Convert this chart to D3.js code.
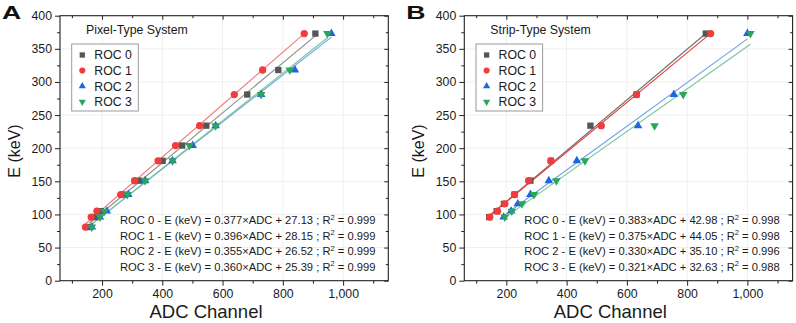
<!DOCTYPE html>
<html><head><meta charset="utf-8">
<script src="https://cdn.jsdelivr.net/npm/d3@7"></script>
<style>
html,body{margin:0;padding:0;background:#fff;}
svg{display:block;font-family:"Liberation Sans",Arial,sans-serif;}
</style></head>
<body><svg id="chart" width="796" height="323"></svg>
<script>
// ---------- data ----------
const seriesNames = ["ROC 0","ROC 1","ROC 2","ROC 3"];
const xTicksMajor = [200,400,600,800,1000];
const xTicksMinor = [100,300,500,700,900,1100];
const yTicksMajor = [0,50,100,150,200,250,300,350,400];
const yTicksMinor = [25,75,125,175,225,275,325,375];

// Panel A: Pixel-Type System
const energyA = [373,318,281,234,204,181,151,130,105,96,81];
const adcA_roc0 = [908,785,682,546,466,401,324,271,196,177,158];
const adcA_roc1 = [871,733,639,524,444,386,308,262,183,164,145];
const adcA_roc2 = [961,840,728,577,501,434,343,287,216,193,166];
const adcA_roc3 = [948,823,728,577,490,434,343,284,208,193,166];
const slopeA = [0.377,0.396,0.355,0.360];
const interA = [27.13,28.15,26.52,25.39];
const r2A = ["0.999","0.999","0.999","0.999"];

// Panel B: Strip-Type System
const energyB = [373,281,234,181,151,130,116,105,96];
const adcB_roc0 = [862,632,479,348,280,227,192,168,143];
const adcB_roc1 = [878,632,515,348,274,227,195,171,145];
const adcB_roc2 = [1000,756,637,434,341,280,238,216,191];
const adcB_roc3 = [1010,787,692,461,366,292,252,218,195];
const slopeB = [0.383,0.375,0.330,0.321];
const interB = [42.98,44.05,35.10,32.63];
const r2B = ["0.998","0.998","0.996","0.988"];

// ---------- styles ----------
const markColors = ["#555555","#f03c3c","#1f66de","#2aa55a"];
const lineColorsA = ["#8a8a8a","#f07a7a","#6f9ee6","#78c695"];
const lineColorsB = ["#707070","#e83a3a","#6f9ee6","#78c695"];
const symbolTypes = [d3.symbolSquare,d3.symbolCircle,d3.symbolTriangle,d3.symbolTriangle];
const symbolSizes = [40,42,32,32];
const symbolRot = [0,0,0,180];

const svg = d3.select("#chart");

function drawPanel(cfg){
  const x = d3.scaleLinear().domain([60.5,1150]).range([cfg.left, cfg.left+328.3]);
  const y = d3.scaleLinear().domain([0,400]).range([280.7,15.7]);
  const g = svg.append("g");
  const [x0,x1] = x.range(), [y0,y1] = y.range();

  // grid
  g.append("g").selectAll("line").data(xTicksMajor).join("line")
    .attr("x1",d=>x(d)).attr("x2",d=>x(d)).attr("y1",y0).attr("y2",y1)
    .attr("stroke","#ebebeb").attr("stroke-width",0.8);
  g.append("g").selectAll("line").data(yTicksMajor.slice(1,-1)).join("line")
    .attr("y1",d=>y(d)).attr("y2",d=>y(d)).attr("x1",x0).attr("x2",x1)
    .attr("stroke","#ebebeb").attr("stroke-width",0.8);

  // bottom axis
  g.append("g").attr("transform",`translate(0,${y0})`)
    .call(d3.axisBottom(x).tickValues(xTicksMajor).tickSize(5).tickPadding(4).tickSizeOuter(0));
  g.append("g").attr("transform",`translate(0,${y0})`)
    .call(d3.axisBottom(x).tickValues(xTicksMinor).tickSize(3).tickFormat("").tickSizeOuter(0));
  // left axis
  g.append("g").attr("transform",`translate(${x0},0)`)
    .call(d3.axisLeft(y).tickValues(yTicksMajor).tickSize(5).tickPadding(3).tickSizeOuter(0));
  g.append("g").attr("transform",`translate(${x0},0)`)
    .call(d3.axisLeft(y).tickValues(yTicksMinor).tickSize(3).tickFormat("").tickSizeOuter(0));
  // top axis (inward)
  g.append("g").attr("transform",`translate(0,${y1})`)
    .call(d3.axisTop(x).tickValues(xTicksMajor).tickSize(-4).tickFormat("").tickSizeOuter(0));
  g.append("g").attr("transform",`translate(0,${y1})`)
    .call(d3.axisTop(x).tickValues(xTicksMinor).tickSize(-2.5).tickFormat("").tickSizeOuter(0));
  // right axis (inward)
  g.append("g").attr("transform",`translate(${x1},0)`)
    .call(d3.axisRight(y).tickValues(yTicksMajor).tickSize(-4).tickFormat("").tickSizeOuter(0));
  g.append("g").attr("transform",`translate(${x1},0)`)
    .call(d3.axisRight(y).tickValues(yTicksMinor).tickSize(-2.5).tickFormat("").tickSizeOuter(0));
  g.selectAll(".domain").remove();
  g.selectAll(".tick line").attr("stroke","#222").attr("stroke-width",1);
  g.selectAll(".tick text").attr("font-size",12.3).attr("fill","#1a1a1a")
    .attr("font-family","'Liberation Sans',Arial,sans-serif");

  // frame
  g.append("rect").attr("x",x0).attr("y",y1).attr("width",x1-x0).attr("height",y0-y1)
    .attr("fill","none").attr("stroke","#222").attr("stroke-width",1.1);

  // fit lines
  cfg.series.forEach((s,i)=>{
    const ext = d3.extent(s);
    g.append("line")
      .attr("x1",x(ext[0])).attr("y1",y(cfg.slope[i]*ext[0]+cfg.inter[i]))
      .attr("x2",x(ext[1])).attr("y2",y(cfg.slope[i]*ext[1]+cfg.inter[i]))
      .attr("stroke",cfg.lineColors[i]).attr("stroke-width",1.1);
  });
  // points
  cfg.series.forEach((s,i)=>{
    g.append("g").selectAll("path").data(s.map((v,j)=>[v,cfg.energy[j]])).join("path")
      .attr("d",d3.symbol().type(symbolTypes[i]).size(symbolSizes[i]))
      .attr("transform",d=>`translate(${x(d[0])},${y(d[1])}) rotate(${symbolRot[i]})`)
      .attr("fill",markColors[i]);
  });

  // panel title
  g.append("text").attr("x",cfg.left+26).attr("y",34).attr("font-size",12.3).attr("fill","#1a1a1a")
    .text(cfg.title);

  // legend
  const lx = cfg.left+11.7, ly0 = 44;
  g.append("rect").attr("x",lx).attr("y",ly0).attr("width",66.6).attr("height",67)
    .attr("fill","#fff").attr("stroke","#9a9a9a").attr("stroke-width",1);
  seriesNames.forEach((n,i)=>{
    const cy = 55 + i*15.6;
    g.append("path").attr("d",d3.symbol().type(symbolTypes[i]).size(symbolSizes[i]*0.7))
      .attr("transform",`translate(${lx+10.6},${cy}) rotate(${symbolRot[i]})`)
      .attr("fill",markColors[i]);
    g.append("text").attr("x",lx+22.6).attr("y",cy+4.4).attr("font-size",12.3).attr("fill","#1a1a1a").text(n);
  });

  // equations
  seriesNames.forEach((n,i)=>{
    const t = g.append("text").attr("x",cfg.left+60).attr("y",224.3+i*15.4)
      .attr("font-size",11.2).attr("fill","#1a1a1a");
    t.append("tspan").text(`${n} - E (keV) = ${cfg.slope[i].toFixed(3)}\u00d7ADC + ${cfg.inter[i].toFixed(2)} ; R`);
    t.append("tspan").attr("dy",-4.5).attr("font-size",7.5).text("2");
    t.append("tspan").attr("dy",4.5).text(` = ${cfg.r2[i]}`);
  });

  // axis titles
  g.append("text").attr("x",cfg.left+146).attr("y",318).attr("text-anchor","middle")
    .attr("font-size",18.5).attr("fill","#1a1a1a").text("ADC Channel");
  g.append("text").attr("transform",`translate(${cfg.left-40},151) rotate(-90)`)
    .attr("text-anchor","middle").attr("font-size",16).attr("fill","#1a1a1a").text("E (keV)");

  // panel letter
  g.append("text").attr("transform",`translate(${cfg.left-58},18.5) scale(1.4,1)`)
    .attr("font-size",19).attr("font-weight","bold").attr("fill","#111").text(cfg.letter);
}

drawPanel({left:60, letter:"A", title:"Pixel-Type System", energy:energyA,
  series:[adcA_roc0,adcA_roc1,adcA_roc2,adcA_roc3], slope:slopeA, inter:interA, r2:r2A, lineColors:lineColorsA});
drawPanel({left:464.3, letter:"B", title:"Strip-Type System", energy:energyB,
  series:[adcB_roc0,adcB_roc1,adcB_roc2,adcB_roc3], slope:slopeB, inter:interB, r2:r2B, lineColors:lineColorsB});
</script></body></html>
